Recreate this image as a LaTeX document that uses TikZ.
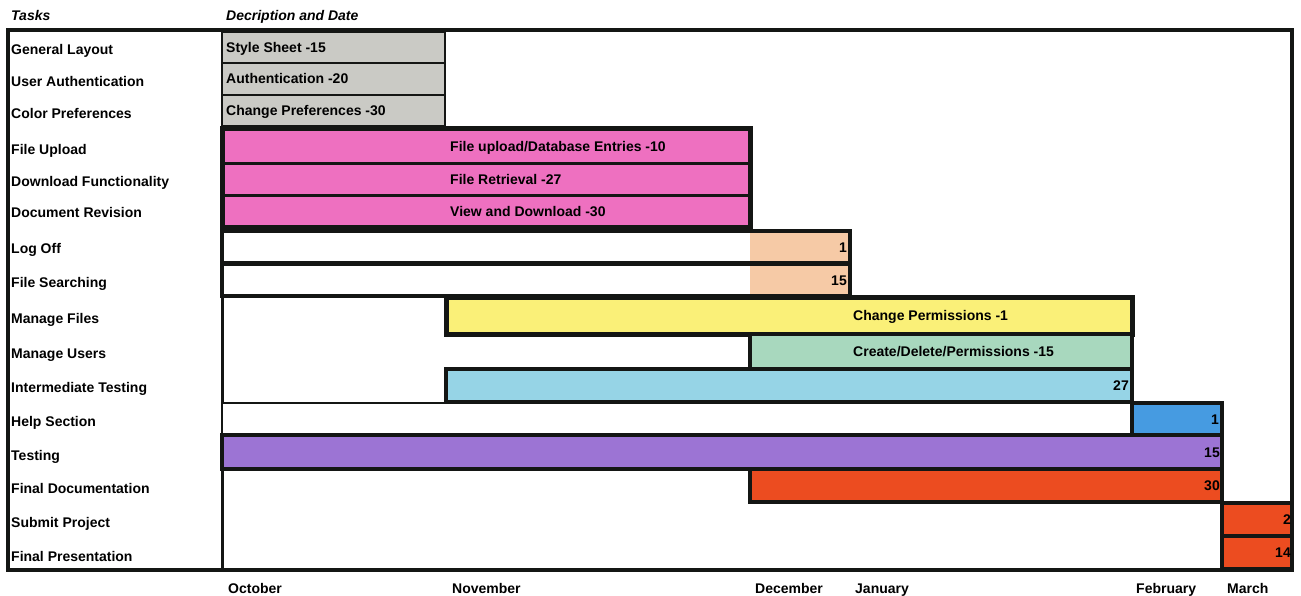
\documentclass[tikz,border=0pt]{standalone}
\usepackage{fontspec}
\setmainfont{Liberation Sans}
\usetikzlibrary{positioning}
\definecolor{graybar}{RGB}{202,202,197}
\definecolor{pinkbar}{RGB}{238,112,192}
\definecolor{peachbar}{RGB}{246,202,166}
\definecolor{yellowbar}{RGB}{250,240,120}
\definecolor{greenbar}{RGB}{168,216,190}
\definecolor{skybar}{RGB}{150,212,230}
\definecolor{bluebar}{RGB}{70,155,225}
\definecolor{purplebar}{RGB}{156,116,212}
\definecolor{redbar}{RGB}{236,76,32}
\definecolor{ink}{RGB}{20,22,20}

\tikzset{
  lbl/.style={inner sep=0pt, text height=10pt, text depth=0pt,
    font=\fontsize{14}{16}\selectfont\bfseries},
  task/.style={lbl, anchor=west},
  head/.style={lbl, anchor=west, font=\fontsize{14}{16}\selectfont\bfseries\itshape},
  bar/.style={anchor=north west, inner sep=0pt, minimum height=#1, outer sep=0pt},
  bar/.default=32pt,
  thin/.style={draw=ink, line width=1.6pt},
  heavy/.style={draw=ink, line width=4pt},
}

\begin{document}
\begin{tikzpicture}[x=1pt,y=-1pt]
\useasboundingbox (0,0) rectangle (1301,596);
% month columns
\coordinate (oct) at (222,0);
\coordinate (nov) at (446,0);
\coordinate (dec) at (750,0);
\coordinate (jan) at (850,0);
\coordinate (feb) at (1132,0);
\coordinate (mar) at (1222,0);
\coordinate (fin) at (1292,0);

\node[head] (tasks) at (11,16) {Tasks};
\node[head] (descr) at (226,16) {Decription and Date};

% frame
\draw[heavy, line width=3.5pt] (8,30) rectangle (fin |- 0,570);
\draw[heavy, line width=3pt] (oct |- 0,30) -- (oct |- 0,570);

% task names
\foreach \y/\t in {50/General Layout, 82/User Authentication, 114/Color Preferences,
  150/File Upload, 182/Download Functionality, 213/Document Revision, 248/Log Off,
  282/File Searching, 318/Manage Files, 353/Manage Users, 387/Intermediate Testing,
  421/Help Section, 455/Testing, 488/Final Documentation, 522/Submit Project,
  556/Final Presentation}
  \node[task] at (11,\y) {\t};

% gray
\node[bar=31pt, thin, fill=graybar, minimum width=223pt] (sheet) at (oct |- 0,32) {};
\node[bar=32pt, thin, fill=graybar, minimum width=223pt] (auth) at (sheet.south west) {};
\node[bar=31pt, thin, fill=graybar, minimum width=223pt] (prefs) at (auth.south west) {};
\draw[thin] (nov |- 0,30) -- (sheet.north east);
\node[lbl, right=4pt of sheet.west] (sheetL) {Style Sheet -15};
\node[lbl, right=4pt of auth.west] (authL) {Authentication -20};
\node[lbl, right=4pt of prefs.west] (prefsL) {Change Preferences -30};

% pink
\node[bar=35pt, draw=ink, line width=3pt, fill=pinkbar, minimum width=528pt] (upload) at (oct |- 0,129) {};
\node[bar=32pt, draw=ink, line width=3pt, fill=pinkbar, minimum width=528pt] (fetch) at (upload.south west) {};
\node[bar=32pt, draw=ink, line width=3pt, fill=pinkbar, minimum width=528pt] (view) at (fetch.south west) {};
\draw[heavy, line width=5pt] (upload.north west) rectangle (view.south east);
\node[lbl, right=228pt of upload.west] (uploadL) {File upload/Database Entries -10};
\node[lbl, right=228pt of fetch.west] (fetchL) {File Retrieval -27};
\node[lbl, right=228pt of view.west] (viewL) {View and Download -30};

% log off / searching
\node[bar=32pt, fill=peachbar, minimum width=100pt] (logoff) at (dec |- 0,231) {};
\draw[heavy] (oct |- logoff.north) rectangle (logoff.south east);
\node[lbl, left=3pt of logoff.east] (logoffL) {1};
\node[bar=32pt, fill=peachbar, minimum width=100pt] (search) at (dec |- 0,264) {};
\draw[heavy] (oct |- search.north) rectangle (search.south east);
\node[lbl, left=3pt of search.east] (searchL) {15};

% files, users, intermediate
\node[bar=37pt, heavy, line width=5pt, fill=yellowbar, minimum width=686pt] (files) at (nov |- 0,297) {};
\node[lbl, right=3pt of files.west -| jan] (filesL) {Change Permissions -1};
\node[bar=35pt, heavy, fill=greenbar, minimum width=382pt] (users) at (dec |- files.south) {};
\node[lbl, right=3pt of users.west -| jan] (usersL) {Create/Delete/Permissions -15};
\node[bar=33pt, heavy, fill=skybar, minimum width=686pt] (inter) at (nov |- users.south) {};
\node[lbl, left=3pt of inter.east] (interL) {27};

% help, testing, documentation
\node[bar=32pt, thin, fill=white, minimum width=910pt] (helpw) at (oct |- 0,403) {};
\node[bar=32pt, heavy, fill=bluebar, minimum width=90pt] (help) at (helpw.north east) {};
\node[lbl, left=3pt of help.east] (helpL) {1};
\node[bar=34pt, heavy, fill=purplebar, minimum width=1000pt] (test) at (oct |- helpw.south) {};
\node[lbl, left=2pt of test.east] (testL) {15};
\node[bar=33pt, heavy, fill=redbar, minimum width=472pt] (docs) at (dec |- test.south) {};
\node[lbl, left=2pt of docs.east] (docsL) {30};

% submit, presentation
\node[bar=33pt, heavy, fill=redbar, minimum width=70pt] (submit) at (mar |- 0,503) {};
\node[lbl, left=1pt of submit.east] (submitL) {2};
\node[bar=33pt, heavy, fill=redbar, minimum width=70pt] (pres) at (submit.south west) {};
\node[lbl, left=1pt of pres.east] (presL) {14};

% months
\foreach \x/\m in {228/October, 452/November, 755/December, 855/January, 1136/February, 1227/March}
  \node[task] at (\x,588) {\m};
\end{tikzpicture}
\end{document}
